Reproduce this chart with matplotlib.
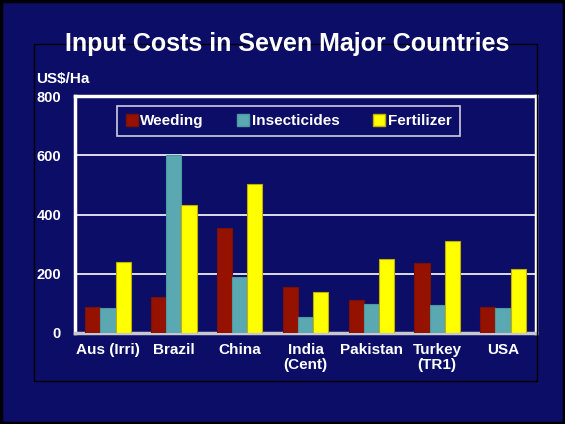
import matplotlib
matplotlib.use("Agg")
import matplotlib.pyplot as plt
import numpy as np
from matplotlib.patches import Rectangle, Patch

plt.rcParams['font.family'] = ['Liberation Sans', 'DejaVu Sans']
plt.rcParams['font.weight'] = 'bold'

countries = ['Aus (Irri)', 'Brazil', 'China', 'India\n(Cent)', 'Pakistan', 'Turkey\n(TR1)', 'USA']
weeding = [87, 120, 355, 155, 110, 237, 87]
insecticides = [85, 600, 189, 55, 97, 94, 85]
fertilizer = [240, 432, 502, 138, 250, 312, 217]
series_names = ['Weeding', 'Insecticides', 'Fertilizer']
yticks = [0, 200, 400, 600, 800]

bg = '#0B0D66'
colors = ['#961200', '#5AA8B2', '#FFFF00']
edges = ['#7A1000', '#4E98A0', '#BFB000']

fig = plt.figure(figsize=(5.65, 4.24), dpi=100)
fig.patch.set_facecolor(bg)

# frames around the slide
fig.patches.append(Rectangle((0.002, 0.002), 0.996, 0.995, transform=fig.transFigure,
                             fill=False, edgecolor='black', lw=2.5, zorder=0))
fig.patches.append(Rectangle((34 / 565, 1 - 381 / 424), 503 / 565, 337 / 424,
                             transform=fig.transFigure, fill=False,
                             edgecolor='black', lw=1.0, zorder=0))

ax = fig.add_axes([75 / 565, 1 - 333 / 424, 461 / 565, 237 / 424])
ax.set_facecolor(bg)

x = np.arange(len(countries))
w = 0.23
for i, vals in enumerate([weeding, insecticides, fertilizer]):
    ax.bar(x + (i - 1) * w, vals, w, color=colors[i], edgecolor=edges[i],
           linewidth=0.8, label=series_names[i], zorder=3)

ax.set_xlim(-0.5, len(countries) - 0.5)
ax.set_ylim(0, 800)
ax.set_yticks(yticks)
ax.set_yticklabels([str(t) for t in yticks], color='white', fontsize=10.5, fontweight='bold')
ax.set_xticks(x)
ax.set_xticklabels(countries, color='white', fontsize=11, fontweight='bold', linespacing=1.1)
ax.tick_params(axis='y', length=0, pad=10)
ax.tick_params(axis='x', length=0, pad=7)
for t in [200, 400, 600]:
    ax.axhline(t, color='white', lw=1.2, zorder=1)
for s in ['left', 'top', 'right']:
    ax.spines[s].set_color('white')
    ax.spines[s].set_linewidth(2.5)
ax.spines['bottom'].set_color('#C8C8D0')
ax.spines['bottom'].set_linewidth(2.5)

handles = [Patch(facecolor=colors[i], edgecolor=edges[i]) for i in range(3)]
leg = ax.legend(handles, series_names, loc='upper center', bbox_to_anchor=(0.463, 0.992),
                ncol=3, frameon=True, fancybox=False, facecolor=bg, edgecolor='white',
                handlelength=0.8, handleheight=0.8, handletextpad=0.15,
                columnspacing=2.2, borderpad=0.55,
                prop={'weight': 'bold', 'size': 11})
leg.get_frame().set_linewidth(1.2)
for t in leg.get_texts():
    t.set_color('white')

fig.text(287 / 565, 1 - 44 / 424, 'Input Costs in Seven Major Countries', color='white',
         fontsize=18, fontweight='bold', ha='center', va='center')
fig.text(36 / 565, 1 - 79 / 424, 'US$/Ha', color='white', fontsize=11,
         fontweight='bold', ha='left', va='center')

fig.savefig('out.png', dpi=100, facecolor=bg)
